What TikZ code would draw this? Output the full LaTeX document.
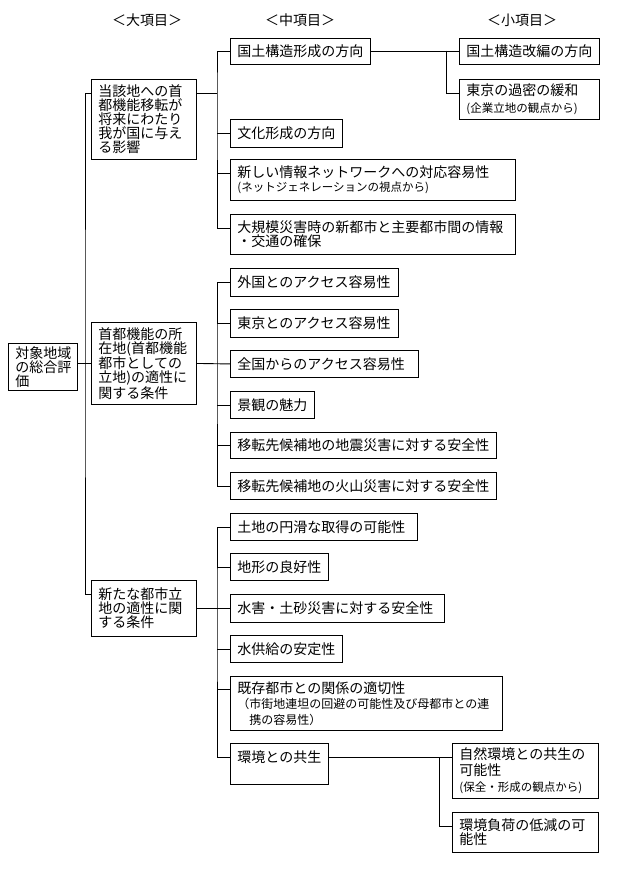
\documentclass[tikz,border=0pt]{standalone}
\usepackage{fontspec}
\setmainfont{Noto Sans CJK JP}
\usepackage{tikz}
\newcommand{\smalltext}{\fontsize{11.5}{13}\selectfont}
\newcommand{\midtext}{\fontsize{12}{14}\selectfont}
\tikzset{box/.style={draw, line width=0.9pt, anchor=north west, align=left, inner xsep=7pt, inner ysep=2pt, font=\fontsize{14}{14}\selectfont},
         head/.style={font=\fontsize{14}{14}\selectfont}}

\begin{document}
\begin{tikzpicture}[x=1pt,y=-1pt, line width=0.9pt, line cap=rect]
        \useasboundingbox (0,0) rectangle (627,896);
        \node[head] (h1) at (147,20) {＜大項目＞};
        \node[head] (h2) at (300,20) {＜中項目＞};
        \node[head] (h3) at (522,20) {＜小項目＞};
        % root and big items
        \node[box, text width=55pt, minimum height=47pt] (root) at (8,343) {対象地域\\の総合評\\価};
        \node[box, text width=91pt, minimum height=80pt] (A) at (91,79) {当該地への首\\都機能移転が\\将来にわたり\\我が国に与え\\る影響};
        \node[box, text width=91pt, minimum height=82pt] (B) at (91,322) {首都機能の所\\在地(首都機能\\都市としての\\立地)の適性に\\関する条件};
        \node[box, text width=91pt, minimum height=56pt] (C) at (91,580) {新たな都市立\\地の適性に関\\する条件};
        % middle items, first group
        \node[box, text width=126pt, minimum height=26pt] (a1) at (230,38) {国土構造形成の方向};
        \node[box, text width=98pt, minimum height=28pt] (a2) at (230,119) {文化形成の方向};
        \node[box, text width=271pt, minimum height=41pt] (a3) at (230,159) {新しい情報ネットワークへの対応容易性\\{\smalltext (ネットジェネレーションの視点から)}};
        \node[box, text width=271pt, minimum height=40pt] (a4) at (230,214) {大規模災害時の新都市と主要都市間の情報\\・交通の確保};
        % small items, first group
        \node[box, text width=126pt, minimum height=26pt] (s1) at (459,38) {国土構造改編の方向};
        \node[box, text width=126pt, minimum height=40pt] (s2) at (459,79) {東京の過密の緩和\\[3pt]{\smalltext (企業立地の観点から)}};
        % middle items, second group
        \node[box, text width=154pt, minimum height=28pt] (m1) at (230,268) {外国とのアクセス容易性};
        \node[box, text width=154pt, minimum height=28pt] (m2) at (230,309) {東京とのアクセス容易性};
        \node[box, text width=174pt, minimum height=27pt] (m3) at (230,350) {全国からのアクセス容易性};
        \node[box, text width=70pt, minimum height=27pt] (m4) at (230,391) {景観の魅力};
        \node[box, text width=252pt, minimum height=26pt] (m5) at (230,432) {移転先候補地の地震災害に対する安全性};
        \node[box, text width=252pt, minimum height=27pt] (m6) at (230,472) {移転先候補地の火山災害に対する安全性};
        % middle items, third group
        \node[box, text width=173pt, minimum height=27pt] (n1) at (230,513) {土地の円滑な取得の可能性};
        \node[box, text width=84pt, minimum height=27pt] (n2) at (230,553) {地形の良好性};
        \node[box, text width=200pt, minimum height=28pt] (n3) at (230,594) {水害・土砂災害に対する安全性};
        \node[box, text width=98pt, minimum height=27pt] (n4) at (230,635) {水供給の安定性};
        \node[box, text width=258pt, minimum height=54pt] (n5) at (230,676) {既存都市との関係の適切性\\[1.5pt]{\midtext （市街地連坦の回避の可能性及び母都市との連}\\[1.5pt]{\midtext \hspace*{1em}携の容易性）}};
        \node[box, text width=84pt, text height=17pt, text depth=20pt] (n6) at (230,743) {環境との共生};
        % small items, third group
        \node[box, text width=132pt, minimum height=55pt] (p1) at (452,743) {自然環境との共生の\\[2pt]可能性\\[2pt]{\smalltext (保全・形成の観点から)}};
        \node[box, text width=132pt, minimum height=40pt] (p2) at (452,812) {環境負荷の低減の可\\能性};
        % attach points
        \coordinate (Aw) at ([yshift=-14pt]A.north west);
        \coordinate (Ae) at ([yshift=-14pt]A.north east);
        \coordinate (Cw) at ([yshift=-14pt]C.north west);
        \coordinate (a3w) at ([yshift=-14pt]a3.north west);
        \coordinate (a4w) at ([yshift=-14pt]a4.north west);
        \coordinate (s2w) at ([yshift=-14pt]s2.north west);
        \coordinate (n5w) at ([yshift=-13pt]n5.north west);
        \coordinate (n6w) at ([yshift=-14pt]n6.north west);
        \coordinate (n6e) at ([yshift=-14pt]n6.north east);
        \coordinate (p1w) at ([yshift=-14pt]p1.north west);
        \coordinate (p2w) at ([yshift=-14pt]p2.north west);
        \coordinate (k1) at (85,363);    % trunk
        \coordinate (ka) at (217,93);
        \coordinate (kb) at (446,51);
        \coordinate (kB) at (217,363);
        \coordinate (kC) at (217,608);
        \coordinate (kc) at (439,757);
        % connectors
        \draw (B.west -| root.east) -- (B.west);
        \draw (Aw) -| (k1) |- (Cw);
        \draw (Ae) -- (ka);                  % A
        \draw (a1.west) -| (ka) |- (a4w);
        \draw (a2.west) -- (a2.west -| ka);
        \draw (a3w) -- (a3w -| ka);
        \draw (a1.east) -- (s1.west);
        \draw (kb) |- (s2w);
        \draw (B.east) -- (m3.west);         % B
        \draw (m1.west) -| (kB) |- (m6.west);
        \draw (m2.west) -- (m2.west -| kB);
        \draw (m4.west) -- (m4.west -| kB);
        \draw (m5.west) -- (m5.west -| kB);
        \draw (C.east) -- (n3.west);         % C
        \draw (n1.west) -| (kC) |- (n6w);
        \draw (n2.west) -- (n2.west -| kC);
        \draw (n4.west) -- (n4.west -| kC);
        \draw (n5w) -- (n5w -| kC);
        \draw (n6e) -- (p1w);
        \draw (kc) |- (p2w);
    \end{tikzpicture}
\end{document}
